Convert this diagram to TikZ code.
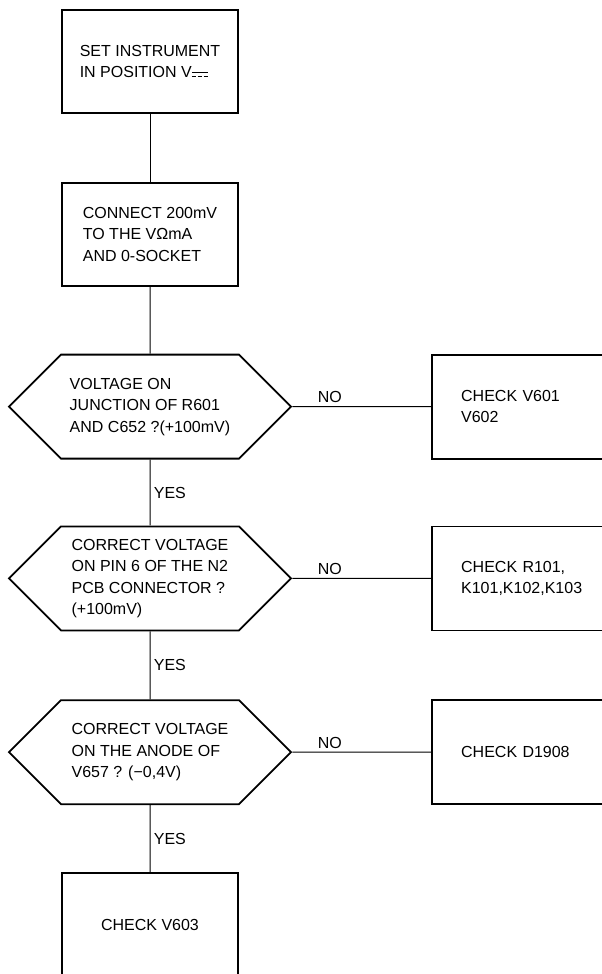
\documentclass[tikz,border=0pt]{standalone}
\usepackage{fontspec}
\setmainfont{Liberation Sans}
\usetikzlibrary{positioning,shapes.symbols}

% DC sign: solid line over a dashed one
\newcommand{\dcmark}{\raisebox{0.1ex}{\vbox{\hrule width 1em height 0.07em \kern0.17em
  \hbox to 1em{\vrule width 0.26em height 0.07em\hfil\vrule width 0.26em height 0.07em\hfil\vrule width 0.26em height 0.07em}}}}

\begin{document}
\begin{tikzpicture}[
  x=1pt, y=1pt,
  font=\fontsize{16pt}{21.5pt}\selectfont,
  box/.style={draw, rectangle, line width=1.8pt, minimum width=176pt, minimum height=103pt, align=left},
  fixbox/.style={box, minimum height=104pt, text width=118pt},
  test/.style={draw, signal, signal to=west and east, signal pointer angle=90, line width=1.8pt, minimum width=282pt, minimum height=104pt, align=left},
  link/.style={line width=1pt}
]

% Page frame (right boxes and last box run off it)
\useasboundingbox (0,0) rectangle (602,-974);
\clip (0,0) rectangle (602,-974);

% Nodes (main column)
\node[box] (set) at (150,-61.5) {SET INSTRUMENT\\IN POSITION V\dcmark};
\node[box, below=68pt of set] (conn) {CONNECT 200mV\\TO THE VΩmA\\AND 0-SOCKET};
\node[test, below=67pt of conn] (q1) {VOLTAGE ON\\JUNCTION OF R601\\AND C652 ?(+100mV)};
\node[test, below=66pt of q1] (q2) {CORRECT VOLTAGE\\ON PIN 6 OF THE N2\\PCB CONNECTOR ?\\(+100mV)};
\node[test, below=68pt of q2] (q3) {CORRECT VOLTAGE\\ON THE ANODE OF\\V657 ? (−0,4V)};
\node[box, below=67pt of q3] (done) {CHECK V603};

% Nodes (right column)
\node[fixbox, right=139pt of q1] (fix1) {CHECK V601\\V602};
\node[fixbox, right=139pt of q2] (fix2) {CHECK R101,\\K101,K102,K103};
\node[fixbox, right=139pt of q3] (fix3) {CHECK D1908};

% Main flow
\draw[link] (set) -- (conn);
\draw[link] (conn) -- (q1);
\draw[link] (q1) -- node[right] {YES} (q2);
\draw[link] (q2) -- node[right] {YES} (q3);
\draw[link] (q3) -- node[right] {YES} (done);

% NO branches
\draw[link] (q1) -- node[above, pos=0.27] {NO} (fix1);
\draw[link] (q2) -- node[above, pos=0.27] {NO} (fix2);
\draw[link] (q3) -- node[above, pos=0.27] {NO} (fix3);

\end{tikzpicture}
\end{document}
